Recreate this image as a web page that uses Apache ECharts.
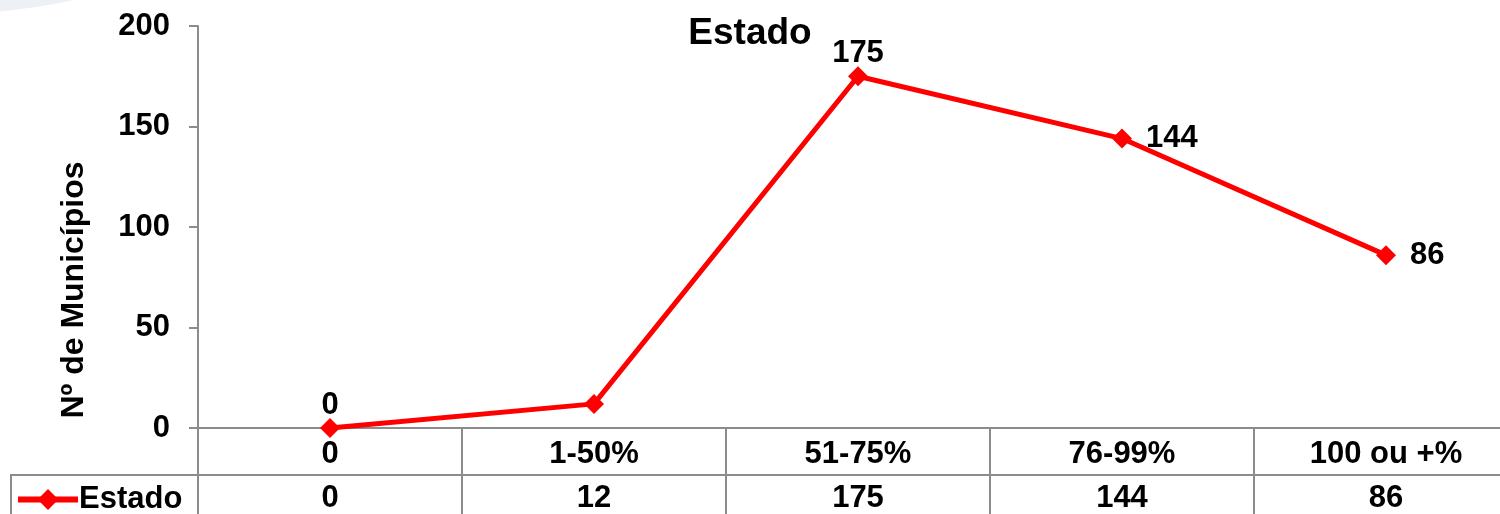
<!DOCTYPE html>
<html>
<head>
<meta charset="utf-8">
<title>Estado</title>
<script src="https://cdn.jsdelivr.net/npm/echarts@6/dist/echarts.min.js"></script>
<style>
  html, body { margin: 0; padding: 0; background: #fff; }
  #chart { width: 1500px; height: 514px; }
</style>
</head>
<body>
<div id="chart"></div>
<script>
// dados do gráfico
var categorias = ['0', '1-50%', '51-75%', '76-99%', '100 ou +%'];
var valores = [0, 12, 175, 144, 86];
// posição do rótulo de cada ponto ('' = sem rótulo)
var posRotulos = ['top', '', 'top', 'right', 'right'];
var nomeSerie = 'Estado';

var fonte = 'Arial, "Liberation Sans", sans-serif';
var cinza = '#8c8c8c';

var chart = echarts.init(document.getElementById('chart'));

var pontos = valores.map(function (v, i) {
    var p = posRotulos[i];
    return {
        value: v,
        label: p ? { show: true, position: p, distance: p === 'right' ? 14 : -3 } : { show: false }
    };
});

var option = {
    backgroundColor: '#fff',
    animation: false,
    title: {
        text: nomeSerie,
        left: 'center',
        top: 10,
        textStyle: { fontFamily: fonte, fontSize: 37, fontWeight: 'bold', color: '#000' }
    },
    legend: {
        data: [nomeSerie],
        left: 10,
        top: 479,
        itemWidth: 60,
        itemHeight: 26,
        itemGap: 0,
        lineStyle: { width: 6 },
        textStyle: { fontFamily: fonte, fontSize: 31, fontWeight: 'bold', color: '#000', padding: [0, 0, 0, -4] }
    },
    grid: {
        left: 198,
        top: 26,
        width: 1320,
        height: 402,
        outerBoundsMode: 'none',
        containLabel: false
    },
    xAxis: [{
        type: 'category',
        data: categorias,
        boundaryGap: true,
        axisLine: { lineStyle: { color: cinza, width: 2 } },
        axisTick: { show: true, length: 86, lineStyle: { color: cinza, width: 2 } },
        axisLabel: { margin: 11, fontFamily: fonte, fontSize: 31, fontWeight: 'bold', color: '#000' }
    }, {
        type: 'category',
        data: valores.map(String),
        position: 'bottom',
        offset: 47,
        boundaryGap: true,
        axisLine: { lineStyle: { color: cinza, width: 2 } },
        axisTick: { show: false },
        axisLabel: { margin: 8, fontFamily: fonte, fontSize: 31, fontWeight: 'bold', color: '#000' }
    }],
    yAxis: {
        type: 'value',
        min: 0,
        max: 200,
        interval: 50,
        splitLine: { show: false },
        axisLine: { show: true, lineStyle: { color: cinza, width: 2 } },
        axisTick: { show: true, length: 9, lineStyle: { color: cinza, width: 2 } },
        axisLabel: { margin: 28, fontFamily: fonte, fontSize: 31, fontWeight: 'bold', color: '#000' }
    },
    series: [{
        name: nomeSerie,
        type: 'line',
        xAxisIndex: 0,
        data: pontos,
        symbol: 'diamond',
        symbolSize: 20,
        color: '#ff0000',
        lineStyle: { color: '#ff0000', width: 5 },
        itemStyle: { color: '#ff0000' },
        label: { fontFamily: fonte, fontSize: 31, fontWeight: 'bold', color: '#000' }
    }],
    graphic: [
        // arco azul claro do fundo do slide
        { type: 'circle', shape: { cx: -40, cy: -490, r: 503 }, style: { fill: '#edf1f6' }, z: -10 },
        // caixa da legenda na tabela de dados
        { type: 'polyline', shape: { points: [[11, 520], [11, 475], [198, 475]] },
          style: { stroke: cinza, lineWidth: 2, fill: null } },
        // título do eixo y
        { type: 'text', x: 74, y: 290, rotation: Math.PI / 2,
          style: { text: 'Nº de Municípios', font: 'bold 32px ' + fonte, fill: '#000',
                   textAlign: 'center', textVerticalAlign: 'middle' } }
    ]
};

chart.setOption(option);
</script>
</body>
</html>
